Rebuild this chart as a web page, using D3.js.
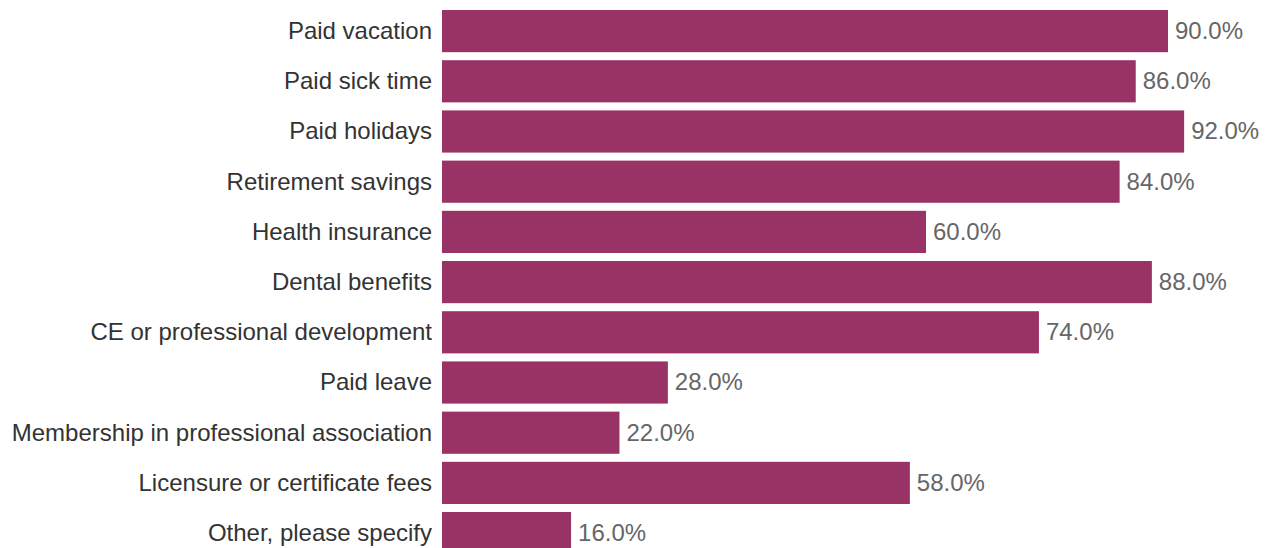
<!DOCTYPE html>
<html><head><meta charset="utf-8">
<script src="https://cdn.jsdelivr.net/npm/d3@7"></script>
<style>body{margin:0;background:#fff;overflow:hidden}</style>
</head><body>
<svg id="chart" width="1265" height="548"></svg>
<script>
const categories = ["Paid vacation","Paid sick time","Paid holidays","Retirement savings","Health insurance","Dental benefits","CE or professional development","Paid leave","Membership in professional association","Licensure or certificate fees","Other, please specify"];
const values = [90,86,92,84,60,88,74,28,22,58,16];

const svg = d3.select("#chart");
const x = d3.scaleLinear().domain([0,100]).range([442, 442 + 806.67]);
const y = d3.scaleBand().domain(categories).range([6, 558.2]).paddingInner(0.16).paddingOuter(0.08);

svg.selectAll("rect.bar").data(categories).join("rect")
  .attr("class","bar")
  .attr("x", x(0))
  .attr("y", d => y(d))
  .attr("width", (d,i) => x(values[i]) - x(0))
  .attr("height", y.bandwidth())
  .attr("fill", "#993366");

svg.selectAll("text.cat").data(categories).join("text")
  .attr("class","cat")
  .attr("x", 432)
  .attr("y", d => y(d) + y.bandwidth()/2)
  .attr("dy", "0.33em")
  .attr("text-anchor","end")
  .attr("font-family","'Liberation Sans', Arial, sans-serif")
  .attr("font-size", 24)
  .attr("fill","#333")
  .text(d => d);

svg.selectAll("text.val").data(categories).join("text")
  .attr("class","val")
  .attr("x", (d,i) => x(values[i]) + 7)
  .attr("y", d => y(d) + y.bandwidth()/2)
  .attr("dy", "0.33em")
  .attr("font-family","'Liberation Sans', Arial, sans-serif")
  .attr("font-size", 24)
  .attr("fill","#666")
  .text((d,i) => values[i].toFixed(1) + "%");
</script>
</body></html>
